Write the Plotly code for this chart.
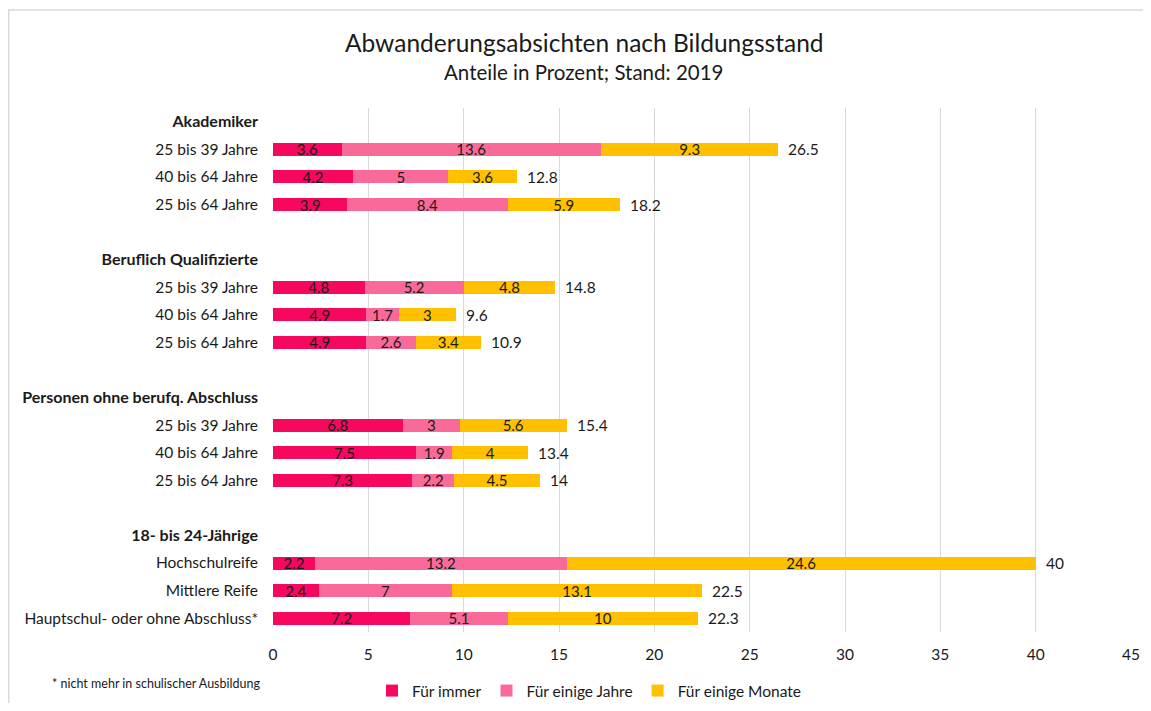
import plotly.graph_objects as go

# ---------------- data ----------------
row_labels = [
    "Akademiker", "25 bis 39 Jahre", "40 bis 64 Jahre", "25 bis 64 Jahre", "",
    "Beruflich Qualifizierte", "25 bis 39 Jahre", "40 bis 64 Jahre", "25 bis 64 Jahre", "",
    "Personen ohne berufq. Abschluss", "25 bis 39 Jahre", "40 bis 64 Jahre", "25 bis 64 Jahre", "",
    "18- bis 24-Jährige", "Hochschulreife", "Mittlere Reife", "Hauptschul- oder ohne Abschluss*",
]
header_rows = ["Akademiker", "Beruflich Qualifizierte", "Personen ohne berufq. Abschluss", "18- bis 24-Jährige"]

fuer_immer = [None, 3.6, 4.2, 3.9, None, None, 4.8, 4.9, 4.9, None, None, 6.8, 7.5, 7.3, None, None, 2.2, 2.4, 7.2]
einige_jahre = [None, 13.6, 5, 8.4, None, None, 5.2, 1.7, 2.6, None, None, 3, 1.9, 2.2, None, None, 13.2, 7, 5.1]
einige_monate = [None, 9.3, 3.6, 5.9, None, None, 4.8, 3, 3.4, None, None, 5.6, 4, 4.5, None, None, 24.6, 13.1, 10]
totals = [None, 26.5, 12.8, 18.2, None, None, 14.8, 9.6, 10.9, None, None, 15.4, 13.4, 14, None, None, 40, 22.5, 22.3]

series_names = ["Für immer", "Für einige Jahre", "Für einige Monate"]
series_colors = ["#F5085E", "#FA6A98", "#FFC000"]

x_ticks = [0, 5, 10, 15, 20, 25, 30, 35, 40, 45]

title = "Abwanderungsabsichten nach Bildungsstand"
subtitle = "Anteile in Prozent; Stand: 2019"
footnote = "* nicht mehr in schulischer Ausbildung"

# ---------------- layout geometry ----------------
OFF = 8  # page body margin
W, H = 1151 - OFF, 711 - 2 * OFF
# plot area in page pixels
PX0, PX1, PY0, PY1 = 273, 1131, 108, 632
L, R, T, B = PX0 - OFF, W - (PX1 - OFF), PY0 - OFF, H - (PY1 - OFF)
PW, PH = PX1 - PX0, PY1 - PY0
FONT = "Lato, 'Open Sans', sans-serif"


def px_x(px):
    return (px - PX0) / PW


def px_y(py):
    return (PY1 - py) / PH


ypos = list(range(len(row_labels)))
ticktext = [f"<b><span style='font-size:16px'>{lab}</span></b>" if lab in header_rows else lab
            for lab in row_labels]

fig = go.Figure()
for name, vals, col in zip(series_names, [fuer_immer, einige_jahre, einige_monate], series_colors):
    fig.add_trace(go.Bar(
        name=name, x=vals, y=ypos, orientation="h",
        marker=dict(color=col, line=dict(width=0)),
        text=[("" if v is None else f"{v:g}") for v in vals],
        textposition="inside", insidetextanchor="middle", textangle=0,
        textfont=dict(color="#1a1a1a", size=15, family=FONT),
        constraintext="none", cliponaxis=False,
        hoverinfo="x+name",
    ))

annotations = []
for yv, tot in zip(ypos, totals):
    if tot is None:
        continue
    annotations.append(dict(
        x=tot, y=yv, xref="x", yref="y", text=f"{tot:g}", showarrow=False,
        xanchor="left", yanchor="middle", xshift=8,
        font=dict(size=15.5, color="#1a1a1a", family=FONT),
    ))

annotations += [
    dict(x=px_x(584), y=px_y(42), xref="paper", yref="paper", text=title, showarrow=False,
         xanchor="center", yanchor="middle", font=dict(size=24.5, color="#1a1a1a", family=FONT)),
    dict(x=px_x(583), y=px_y(72), xref="paper", yref="paper", text=subtitle, showarrow=False,
         xanchor="center", yanchor="middle", font=dict(size=20.5, color="#1a1a1a", family=FONT)),
    dict(x=px_x(50), y=px_y(683), xref="paper", yref="paper", text=footnote, showarrow=False,
         xanchor="left", yanchor="middle", font=dict(size=12.5, color="#1a1a1a", family=FONT)),
]

fig.update_layout(
    width=W, height=H,
    margin=dict(l=L, r=R, t=T, b=B, pad=0, autoexpand=False),
    barmode="stack", bargap=0.53,
    plot_bgcolor="white", paper_bgcolor="white",
    font=dict(family=FONT, size=15.5, color="#1a1a1a"),
    showlegend=True,
    legend=dict(orientation="h", x=px_x(372), y=px_y(691), xanchor="left", yanchor="middle",
                font=dict(size=15.5, family=FONT, color="#1a1a1a"), traceorder="normal",
                itemwidth=30, bgcolor="rgba(0,0,0,0)"),
    uniformtext=dict(minsize=15, mode="show"),
    xaxis=dict(range=[0, 45], tickvals=x_ticks, showgrid=True, gridcolor="#D9D9D9", gridwidth=1,
               zeroline=False, showline=False, ticks="", tickfont=dict(size=15.5),
               ticklabelstandoff=11, fixedrange=True, automargin=False),
    yaxis=dict(tickvals=ypos, ticktext=ticktext, range=[len(row_labels) - 0.5, -0.5],
               showgrid=False, zeroline=False, showline=False, ticks="", ticklabelstandoff=14,
               tickfont=dict(size=15.5), fixedrange=True, automargin=False),
    annotations=annotations,
    shapes=[dict(type="rect", xref="paper", yref="paper",
                 x0=px_x(8.7), x1=px_x(1170), y0=px_y(10), y1=px_y(730),
                 line=dict(color="#D9D9D9", width=1.5), fillcolor="rgba(0,0,0,0)", layer="below")],
)

fig.write_html("out.html")
